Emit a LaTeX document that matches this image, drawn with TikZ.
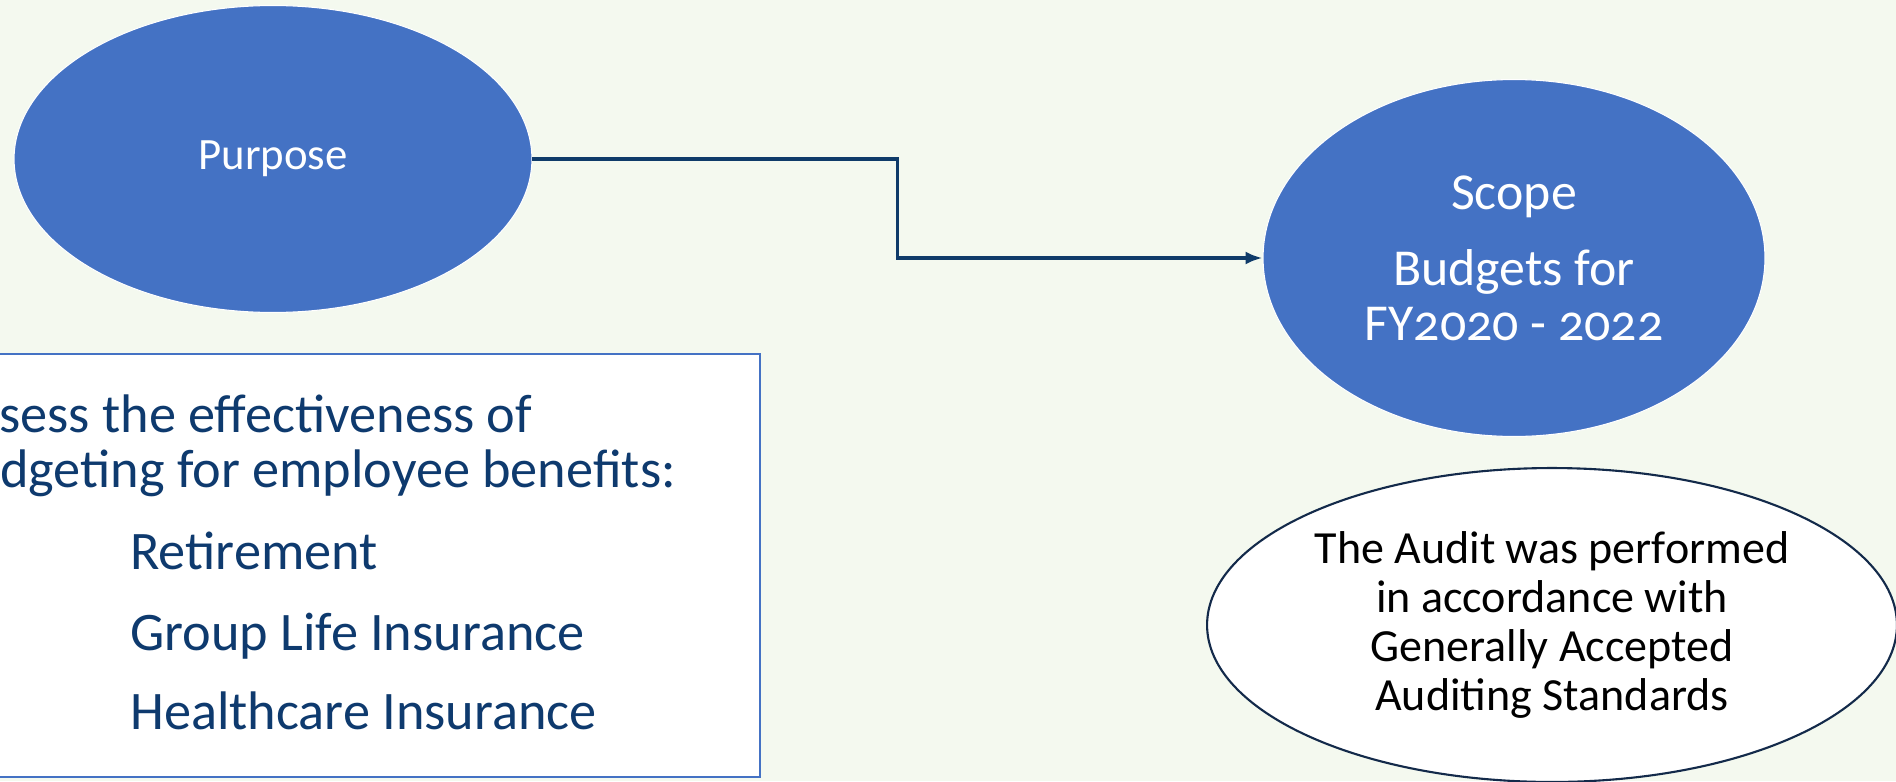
\documentclass[tikz,border=0pt]{standalone}
\usepackage{fontspec}
\setmainfont{Carlito}[Numbers=OldStyle]
\usepackage{tikz}
\usetikzlibrary{arrows.meta,positioning,calc,shapes.geometric}
\definecolor{bggreen}{HTML}{F4F9EF}
\definecolor{bluefill}{HTML}{4472C4}
\definecolor{navytext}{HTML}{0E3A6E}
\definecolor{navyline}{HTML}{0F3B69}
\definecolor{noteline}{HTML}{132A4A}

\begin{document}
\begin{tikzpicture}[
  x=0.02cm,y=-0.02cm,
  >=Latex,
  every node/.style={align=center},
  bubble/.style={ellipse,draw=white,line width=0.6pt,fill=bluefill,text=white,inner sep=0pt},
  note/.style={ellipse,draw=noteline,line width=1.2pt,fill=white,text=black,inner sep=0pt,font=\fontsize{26.2}{27.9}\selectfont},
  goalbox/.style={rectangle,draw=bluefill,line width=1.1pt,fill=white,inner sep=0pt},
  goaltext/.style={anchor=base west,inner sep=0pt,text=navytext,font=\fontsize{30.9}{32}\selectfont},
  link/.style={-{Latex[length=3.4mm,width=2.6mm]},line width=2.1pt,navyline}
]
  % Page area and background tint.
  \useasboundingbox[fill=bggreen] (0,0) rectangle (1896,781);

  % Upper tier: purpose and scope bubbles.
  \node[bubble,minimum width=10.36cm,minimum height=6.14cm,font=\fontsize{25.5}{28}\selectfont] (purpose) at (273,159) {Purpose};
  \node[bubble,minimum width=10.04cm,minimum height=7.14cm,font=\fontsize{29.5}{31.3}\selectfont] (scope) at (1514,258) {Scope\\[12pt]Budgets for\\FY2020 - 2022};
  \draw[link] (purpose.east) -| ($(purpose.east)!0.5!(scope.west)$) |- (scope.west);

  % Lower tier: goal box on the left, audit note on the right.
  \node[goalbox,minimum width=15.6cm,minimum height=8.46cm] (goals) at (370,565.5) {};
  \node[goaltext] (goal1) at (-1,432) {sess the effectiveness of};
  \node[goaltext] (goal2) at (0,487) {dgeting for employee benefits:};
  \node[goaltext] (retire) at (130,569) {Retirement};
  \node[goaltext] (life) at (130,650) {Group Life Insurance};
  \node[goaltext] (health) at (130,729) {Healthcare Insurance};

  \node[note,minimum width=13.8cm,minimum height=6.28cm] (audit) at (1552,625) {The Audit was performed\\in accordance with\\Generally Accepted\\Auditing Standards};
\end{tikzpicture}
\end{document}
